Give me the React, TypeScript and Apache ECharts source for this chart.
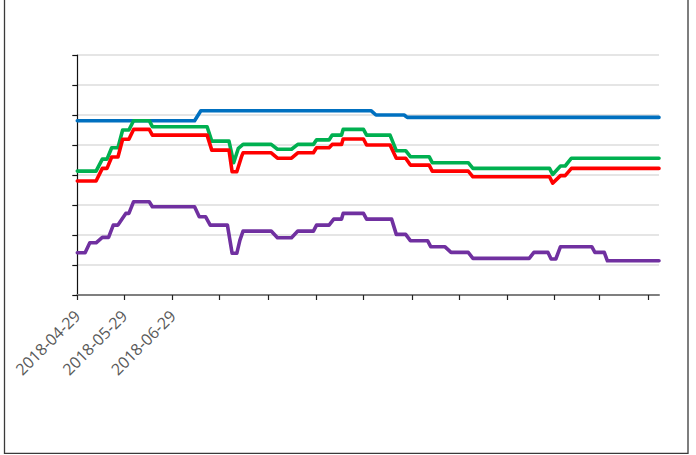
import React, { useEffect, useRef } from "react";
import * as echarts from "echarts";

// ---- data ----
const axisStart = "2018-04-29";
const axisEnd = "2019-05-06";
const tickDates = [
  "2018-04-29", "2018-05-29", "2018-06-29", "2018-07-29", "2018-08-29", "2018-09-29",
  "2018-10-29", "2018-11-29", "2018-12-29", "2019-01-29", "2019-02-28", "2019-03-29", "2019-04-29",
];
const labelDates = ["2018-04-29", "2018-05-29", "2018-06-29"];
const yMin = 0;
const yMax = 8;
const yStep = 1;

const blueLine: [string, number][] = [
  ["2018-04-29", 5.81], ["2018-07-13", 5.81], ["2018-07-17", 6.14], ["2018-11-03", 6.14],
  ["2018-11-06", 6.0], ["2018-11-24", 6.0], ["2018-11-26", 5.92], ["2019-05-06", 5.92],
];

const greenLine: [string, number][] = [
  ["2018-04-29", 4.13], ["2018-05-11", 4.13], ["2018-05-15", 4.53], ["2018-05-18", 4.53],
  ["2018-05-21", 4.91], ["2018-05-25", 4.91], ["2018-05-28", 5.5], ["2018-06-01", 5.5],
  ["2018-06-04", 5.81], ["2018-06-14", 5.81], ["2018-06-16", 5.61], ["2018-07-21", 5.61],
  ["2018-07-24", 5.13], ["2018-08-04", 5.13], ["2018-08-07", 4.41], ["2018-08-10", 4.89],
  ["2018-08-13", 5.02], ["2018-08-31", 5.02], ["2018-09-04", 4.86], ["2018-09-13", 4.86],
  ["2018-09-17", 5.02], ["2018-09-27", 5.02], ["2018-09-29", 5.17], ["2018-10-07", 5.17],
  ["2018-10-09", 5.33], ["2018-10-15", 5.33], ["2018-10-16", 5.52], ["2018-10-29", 5.52],
  ["2018-10-31", 5.33], ["2018-11-15", 5.33], ["2018-11-19", 4.81], ["2018-11-25", 4.81],
  ["2018-11-28", 4.61], ["2018-12-10", 4.61], ["2018-12-12", 4.41], ["2019-01-04", 4.41],
  ["2019-01-07", 4.22], ["2019-02-25", 4.22], ["2019-02-27", 4.02], ["2019-03-04", 4.3],
  ["2019-03-07", 4.3], ["2019-03-11", 4.56], ["2019-05-06", 4.56],
];

const redLine: [string, number][] = [
  ["2018-04-29", 3.8], ["2018-05-11", 3.8], ["2018-05-15", 4.22], ["2018-05-18", 4.22],
  ["2018-05-21", 4.6], ["2018-05-25", 4.6], ["2018-05-28", 5.19], ["2018-06-01", 5.19],
  ["2018-06-04", 5.52], ["2018-06-14", 5.52], ["2018-06-16", 5.33], ["2018-07-21", 5.33],
  ["2018-07-24", 4.83], ["2018-08-04", 4.83], ["2018-08-06", 4.11], ["2018-08-09", 4.11],
  ["2018-08-12", 4.61], ["2018-08-13", 4.74], ["2018-08-31", 4.74], ["2018-09-04", 4.56],
  ["2018-09-13", 4.56], ["2018-09-17", 4.74], ["2018-09-27", 4.74], ["2018-09-29", 4.91],
  ["2018-10-07", 4.91], ["2018-10-09", 5.02], ["2018-10-15", 5.02], ["2018-10-16", 5.2],
  ["2018-10-29", 5.2], ["2018-10-31", 5.0], ["2018-11-15", 5.0], ["2018-11-19", 4.56],
  ["2018-11-25", 4.56], ["2018-11-28", 4.33], ["2018-12-10", 4.33], ["2018-12-12", 4.13],
  ["2019-01-04", 4.13], ["2019-01-07", 3.94], ["2019-02-25", 3.94], ["2019-02-27", 3.73],
  ["2019-03-04", 3.98], ["2019-03-07", 3.98], ["2019-03-11", 4.22], ["2019-05-06", 4.22],
];

const purpleLine: [string, number][] = [
  ["2018-04-29", 1.41], ["2018-05-04", 1.41], ["2018-05-07", 1.74], ["2018-05-11", 1.74],
  ["2018-05-15", 1.92], ["2018-05-19", 1.92], ["2018-05-22", 2.33], ["2018-05-25", 2.33],
  ["2018-05-30", 2.72], ["2018-06-01", 2.72], ["2018-06-04", 3.11], ["2018-06-14", 3.11],
  ["2018-06-16", 2.94], ["2018-07-13", 2.94], ["2018-07-16", 2.61], ["2018-07-20", 2.61],
  ["2018-07-23", 2.33], ["2018-08-03", 2.33], ["2018-08-06", 1.39], ["2018-08-09", 1.39],
  ["2018-08-11", 1.83], ["2018-08-13", 2.13], ["2018-08-31", 2.13], ["2018-09-04", 1.91],
  ["2018-09-13", 1.91], ["2018-09-17", 2.13], ["2018-09-27", 2.13], ["2018-09-29", 2.33],
  ["2018-10-07", 2.33], ["2018-10-10", 2.53], ["2018-10-15", 2.53], ["2018-10-16", 2.72],
  ["2018-10-29", 2.72], ["2018-10-31", 2.53], ["2018-11-16", 2.53], ["2018-11-19", 2.02],
  ["2018-11-25", 2.02], ["2018-11-28", 1.81], ["2018-12-09", 1.81], ["2018-12-11", 1.61],
  ["2018-12-20", 1.61], ["2018-12-24", 1.42], ["2019-01-04", 1.42], ["2019-01-07", 1.22],
  ["2019-02-12", 1.22], ["2019-02-15", 1.42], ["2019-02-24", 1.42], ["2019-02-26", 1.2],
  ["2019-03-01", 1.2], ["2019-03-04", 1.61], ["2019-03-24", 1.61], ["2019-03-26", 1.42],
  ["2019-04-01", 1.42], ["2019-04-03", 1.14], ["2019-05-06", 1.14],
];

const seriesList = [
  { name: "Series 1", color: "#0070C0", points: blueLine },
  { name: "Series 2", color: "#00B050", points: greenLine },
  { name: "Series 3", color: "#FF0000", points: redLine },
  { name: "Series 4", color: "#7030A0", points: purpleLine },
];

const DAY = 86400000;
function utc(d: string): number {
  const [y, m, dd] = d.split("-").map(Number);
  return Date.UTC(y, m - 1, dd);
}
const base = utc(axisStart);
// days since the axis start
function dayOf(d: string): number {
  return Math.round((utc(d) - base) / DAY);
}
function fmt(day: number): string {
  const d = new Date(base + Math.round(day) * DAY);
  const p = (n: number) => (n < 10 ? "0" + n : "" + n);
  return d.getUTCFullYear() + "-" + p(d.getUTCMonth() + 1) + "-" + p(d.getUTCDate());
}

export default function App() {
  const ref = useRef<HTMLDivElement>(null);
  useEffect(() => {
    if (!ref.current) return;
    const chart = echarts.init(ref.current, undefined, { renderer: "svg" });
    chart.setOption({
      animation: false,
      backgroundColor: "#ffffff",
      graphic: [
        {
          type: "rect",
          z: 0,
          silent: true,
          shape: { x: 4.5, y: -10, width: 683.5, height: 463.3 },
          style: { fill: "none", stroke: "#3a3a3a", lineWidth: 1.3 },
        },
      ],
      grid: { left: 77.3, right: 37, top: 55, bottom: 160, containLabel: false },
      xAxis: {
        type: "value",
        min: 0,
        max: dayOf(axisEnd),
        axisLine: { show: true, onZero: false, lineStyle: { color: "#7f7f7f", width: 2 } },
        axisTick: {
          show: true,
          length: 5,
          lineStyle: { color: "#222222", width: 1.2 },
          customValues: tickDates.map(dayOf),
        },
        axisLabel: {
          show: true,
          rotate: 45,
          margin: 18,
          color: "#595959",
          fontSize: 16,
          fontFamily: "Open Sans",
          customValues: labelDates.map(dayOf),
          formatter: (v: number) => fmt(v),
          hideOverlap: false,
          showMinLabel: true,
          showMaxLabel: true,
        },
        splitLine: { show: false },
      },
      yAxis: {
        type: "value",
        min: yMin,
        max: yMax,
        interval: yStep,
        axisLine: { show: true, lineStyle: { color: "#111111", width: 1.2 } },
        axisTick: { show: true, length: 5, lineStyle: { color: "#111111", width: 1.2 } },
        axisLabel: { show: false },
        splitLine: { show: true, lineStyle: { color: "#dcdcdc", width: 1.5 } },
      },
      series: seriesList.map((s) => ({
        name: s.name,
        type: "line",
        showSymbol: false,
        symbol: "none",
        z: 3,
        lineStyle: { color: s.color, width: 3.6, cap: "round", join: "round" },
        itemStyle: { color: s.color },
        data: s.points.map(([d, v]) => [dayOf(d), v]),
      })),
    });
    return () => chart.dispose();
  }, []);
  return (
    <div
      ref={ref}
      style={{ position: "fixed", left: 0, top: 0, width: 696, height: 455 }}
    />
  );
}
